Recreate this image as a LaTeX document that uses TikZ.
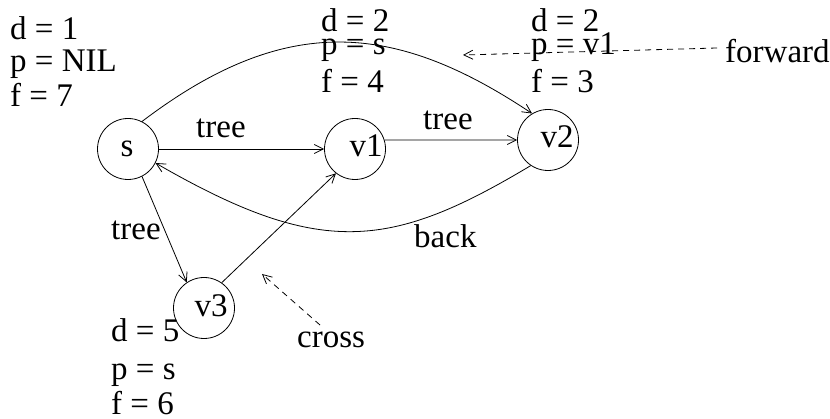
\documentclass[tikz,border=0pt]{standalone}
\usepackage{fontspec}
\setmainfont{Liberation Serif}
\usetikzlibrary{arrows.meta}
\begin{document}
\begin{tikzpicture}[x=1pt,y=-1pt,
  every node/.style={font=\fontsize{33}{37}\selectfont, inner sep=0pt},
  vert/.style={draw, circle, minimum size=61pt, line width=0.8pt},
  txt/.style={anchor=base west},
  edge/.style={line width=0.8pt, -{Straight Barb[length=9pt,width=9pt,line width=0.8pt]}},
  dedge/.style={edge, dash pattern=on 6pt off 5pt}]
\useasboundingbox (0,0) rectangle (830,419);
% vertices
\node[vert] (s) at (128,149) {};
\node[vert] (v1) at (355,149) {};
\node[vert] (v2) at (548,140) {};
\node[vert] (v3) at (204,308) {};
\node[anchor=base] (ts) at (127,157) {s};
\node[anchor=base] (tv1) at (366,157) {v1};
\node[anchor=base] (tv2) at (557,148) {v2};
\node[anchor=base] (tv3) at (211,317) {v3};
% attributes
\node[txt] (sd) at (10,40) {d = 1};
\node[txt] (sp) at (10,72) {p = NIL};
\node[txt] (sf) at (10,107) {f = 7};
\node[txt] (ad) at (321,32) {d = 2};
\node[txt] (ap) at (321,55) {p = s};
\node[txt] (af) at (321,93) {f = 4};
\node[txt] (bd) at (531,32) {d = 2};
\node[txt] (bp) at (531,55) {p = v1};
\node[txt] (bf) at (531,93) {f = 3};
\node[txt] (cd) at (111,342) {d = 5};
\node[txt] (cp) at (111,380) {p = s};
\node[txt] (cf) at (111,414) {f = 6};
% edge labels
\node[txt] (l1) at (196,138) {tree};
\node[txt] (l2) at (423,130) {tree};
\node[txt] (l3) at (111,240) {tree};
\node[txt] (l4) at (414,248) {back};
\node[txt] (l5) at (725,63) {forward};
\node[txt] (l6) at (297,348) {cross};
% edges
\draw[edge] (s.east) -- (v1.west);
\draw[edge] (v1.17) -- (v2.west);
\draw[edge] (s.-63) -- (v3.124);
\draw[edge] (v3.55) -- (v1.232);
\draw[edge] (s.63) .. controls (286,12) and (395,22) .. (v2.121);
\draw[edge] (v2.236) .. controls (390,250) and (320,258) .. (s.-27);
% pointers
\coordinate (fa) at (717,48);
\coordinate (fb) at (463,55);
\coordinate (ca) at (320,325);
\coordinate (cb) at (262,274);
\draw[dedge] (fa) -- (fb);
\draw[dedge] (ca) -- (cb);
\end{tikzpicture}
\end{document}
